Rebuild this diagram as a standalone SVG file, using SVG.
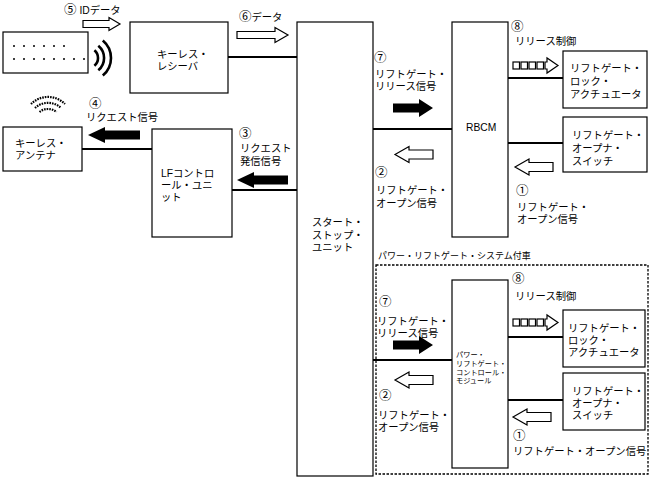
<svg xmlns="http://www.w3.org/2000/svg" width="650" height="478" viewBox="0 0 650 478">
<style>
.box{fill:#fff;stroke:#000;stroke-width:1.2}
.ln{stroke:#000;stroke-width:2.2;fill:none}
.ha{fill:#fff;stroke:#000;stroke-width:1.2;stroke-linejoin:miter}
.ba{fill:#000;stroke:none}
.wave{fill:none;stroke:#000;stroke-width:2.6}
.wifi{fill:none;stroke:#000;stroke-width:2.2;stroke-dasharray:1.6 1}
text{font-family:"Liberation Sans","Noto Sans CJK JP",sans-serif;font-size:10.3px;fill:#000}
.sm{font-size:9px}
.xs{font-size:7.2px}
.n{font-family:"Noto Sans CJK JP",sans-serif;font-size:12.5px}
</style>
<rect width="650" height="478" fill="#fff"/>

<g id="key-fob">
<rect class="box" x="3" y="32" width="85" height="41"/>
<g fill="#000">
<circle cx="14" cy="46" r="1"/><circle cx="24" cy="46" r="1"/><circle cx="34" cy="46" r="1"/><circle cx="44" cy="46" r="1"/><circle cx="54" cy="46" r="1"/><circle cx="64" cy="46" r="1"/>
<circle cx="14" cy="59" r="1"/><circle cx="24" cy="59" r="1"/><circle cx="34" cy="59" r="1"/><circle cx="44" cy="59" r="1"/><circle cx="54" cy="59" r="1"/><circle cx="64" cy="59" r="1"/><circle cx="74" cy="59" r="1"/><circle cx="84" cy="59" r="1"/>
</g>
<path class="wave" d="M94.4,50.3 A10,10 0 0 1 94.4,65.7 M98.3,45.7 A16,16 0 0 1 98.3,70.3 M102.8,40.4 A23,23 0 0 1 102.8,75.6"/>
</g>

<g id="antenna-wave">
<path class="wifi" d="M31,104 A24,24 0 0 1 65,104 M35,108 A19,19 0 0 1 61,108 M39.5,112 A13.5,13.5 0 0 1 56.5,112"/>
</g>

<g id="keyless-receiver">
<rect class="box" x="130" y="22" width="98" height="71"/>
<text x="157" y="58">キーレス・</text>
<text x="157" y="70">レシーバ</text>
</g>

<g id="keyless-antenna">
<rect class="box" x="3" y="127" width="79" height="44"/>
<text x="15" y="147">キーレス・</text>
<text x="15" y="159">アンテナ</text>
</g>

<g id="lf-control-unit">
<rect class="box" x="152" y="129" width="80" height="108"/>
<text x="161" y="177">LFコントロ</text>
<text x="161" y="189">ール・ユニ</text>
<text x="161" y="201">ット</text>
</g>

<g id="start-stop-unit">
<rect class="box" x="297" y="22" width="76" height="454"/>
<text x="312" y="226">スタート・</text>
<text x="312" y="239">ストップ・</text>
<text x="312" y="251">ユニット</text>
</g>

<g id="rbcm">
<rect class="box" x="452" y="22" width="56" height="215"/>
<text x="466" y="131">RBCM</text>
</g>

<g id="lock-actuator-1">
<rect class="box" x="563" y="51" width="84" height="57"/>
<text x="570" y="72">リフトゲート・</text>
<text x="570" y="85">ロック・</text>
<text x="570" y="98">アクチュエータ</text>
</g>

<g id="opener-switch-1">
<rect class="box" x="563" y="117" width="84" height="55"/>
<text x="572" y="139">リフトゲート・</text>
<text x="572" y="152">オープナ・</text>
<text x="572" y="165">スイッチ</text>
</g>

<g id="power-liftgate-system">
<text class="sm" x="378" y="259">パワー・リフトゲート・システム付車</text>
<rect x="376" y="265" width="272" height="209" fill="none" stroke="#000" stroke-width="1.3" stroke-dasharray="2.5 1.5"/>
</g>

<g id="power-liftgate-module">
<rect class="box" x="452" y="280" width="56" height="188"/>
<text class="xs" x="456" y="357">パワー・</text>
<text class="xs" x="456" y="366">リフトゲート・</text>
<text class="xs" x="456" y="374.5">コントロール・</text>
<text class="xs" x="456" y="383">モジュール</text>
</g>

<g id="lock-actuator-2">
<rect class="box" x="563" y="310" width="82" height="57"/>
<text x="568" y="332">リフトゲート・</text>
<text x="568" y="344">ロック・</text>
<text x="568" y="356">アクチュエータ</text>
</g>

<g id="opener-switch-2">
<rect class="box" x="563" y="373" width="82" height="57"/>
<text x="572" y="395">リフトゲート・</text>
<text x="572" y="407">オープナ・</text>
<text x="572" y="419">スイッチ</text>
</g>

<g id="connectors">
<path class="ln" d="M228,57 H297"/>
<path class="ln" d="M82,149 H152"/>
<path class="ln" d="M232,190 H297"/>
<path class="ln" d="M373,129 H452"/>
<path class="ln" d="M508,78 H563"/>
<path class="ln" d="M508,143 H563"/>
<path class="ln" d="M373,360 H452"/>
<path class="ln" d="M508,337 H563"/>
<path class="ln" d="M508,400 H563"/>
</g>

<g id="signals">
<path class="ha" d="M83,20.5 H109 V17.5 L120,24 L109,30.5 V27.5 H83 Z"/>
<text x="64" y="14"><tspan class="n">⑤</tspan> IDデータ</text>

<path class="ha" d="M237,31.5 H275 V27.5 L288,35 L275,42.5 V38.5 H237 Z"/>
<text x="239" y="21"><tspan class="n">⑥</tspan>データ</text>

<path class="ba" d="M88,135 L105,127 V130.5 H140 V139.5 H105 V143 Z"/>
<text class="n" x="89" y="108">④</text>
<text x="86" y="121">リクエスト信号</text>

<path class="ba" d="M237,180 L254,172 V175.5 H288 V184.5 H254 V188 Z"/>
<text class="n" x="239" y="138">③</text>
<text x="240" y="152">リクエスト</text>
<text x="240" y="165">発信信号</text>

<path class="ba" d="M393,103.5 H419 V99 L433,108 L419,117 V112.5 H393 Z"/>
<text class="n" x="374" y="62">⑦</text>
<text x="375" y="78">リフトゲート・</text>
<text x="375" y="90">リリース信号</text>

<g>
<rect class="ha" x="513" y="62" width="6.5" height="7"/>
<rect class="ha" x="521" y="62" width="6.5" height="7"/>
<rect class="ha" x="529" y="62" width="6.5" height="7"/>
<rect class="ha" x="537" y="62" width="6.5" height="7"/>
<path class="ha" d="M545,62 H547 V58 L558,65.5 L547,73 V69 H545 Z"/>
</g>
<text class="n" x="511" y="31">⑧</text>
<text x="515" y="45">リリース制御</text>

<path class="ha" d="M395,154.5 L409,146.5 V150 H433 V159 H409 V162.5 Z"/>
<text class="n" x="375" y="177">②</text>
<text x="376" y="194">リフトゲート・</text>
<text x="376" y="207">オープン信号</text>

<path class="ha" d="M515,167 L529,159 V162.5 H553 V171.5 H529 V175 Z"/>
<text class="n" x="516" y="195">①</text>
<text x="517" y="211">リフトゲート・</text>
<text x="517" y="223">オープン信号</text>

<path class="ba" d="M393,340.5 H419 V336 L433,345 L419,354 V349.5 H393 Z"/>
<text class="n" x="379" y="306">⑦</text>
<text x="377" y="325">リフトゲート・</text>
<text x="377" y="337">リリース信号</text>

<g>
<rect class="ha" x="513" y="319" width="6.5" height="7"/>
<rect class="ha" x="521" y="319" width="6.5" height="7"/>
<rect class="ha" x="529" y="319" width="6.5" height="7"/>
<rect class="ha" x="537" y="319" width="6.5" height="7"/>
<path class="ha" d="M545,319 H547 V315 L558,322.5 L547,330 V326 H545 Z"/>
</g>
<text class="n" x="512" y="283">⑧</text>
<text x="515" y="300">リリース制御</text>

<path class="ha" d="M395,380 L409,372 V375.5 H433 V384.5 H409 V388 Z"/>
<text class="n" x="379" y="400">②</text>
<text x="378" y="419">リフトゲート・</text>
<text x="378" y="431">オープン信号</text>

<path class="ha" d="M513,417 L527,409 V412.5 H551 V421.5 H527 V425 Z"/>
<text class="n" x="513" y="440">①</text>
<text x="513" y="455">リフトゲート・オープン信号</text>
</g>
</svg>
